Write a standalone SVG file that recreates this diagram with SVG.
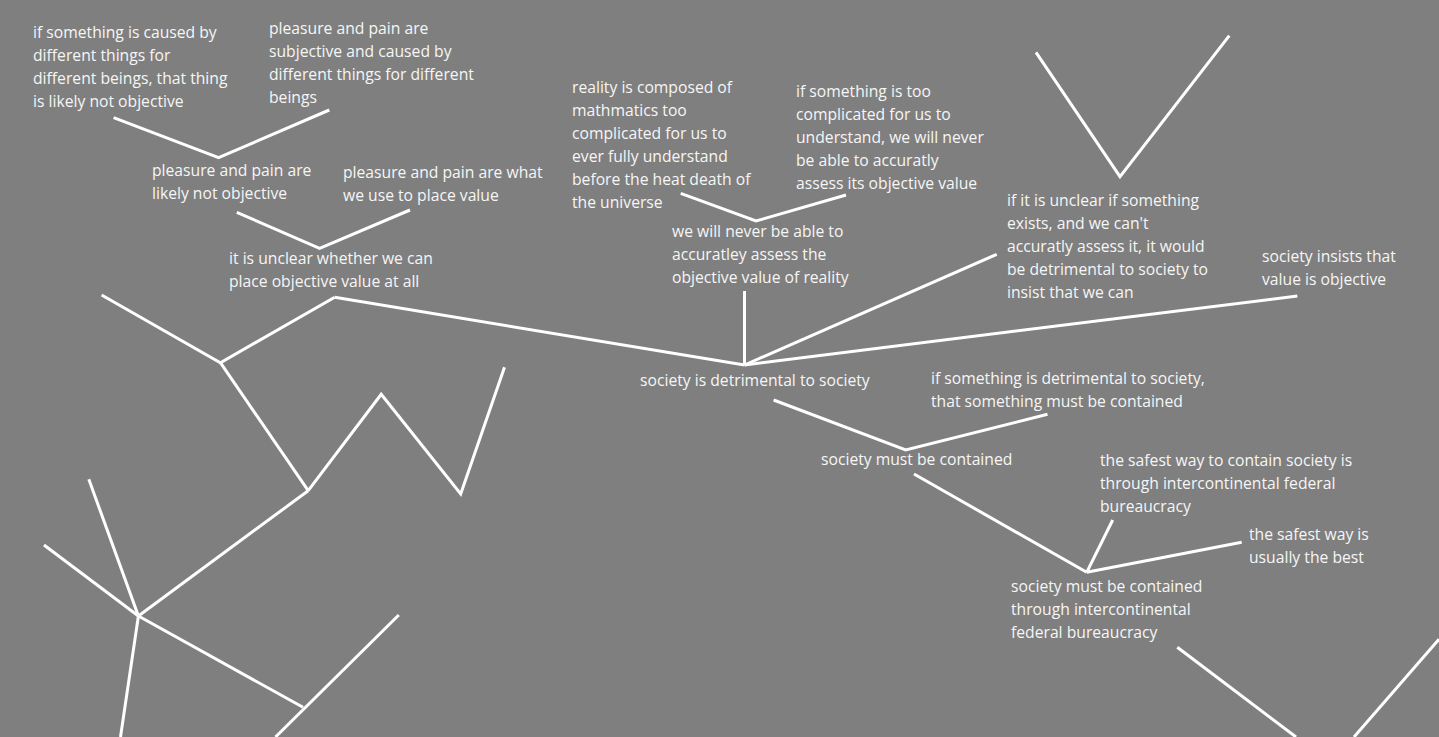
<svg xmlns="http://www.w3.org/2000/svg" width="1439" height="737" viewBox="0 0 1439 737">
<style>
.bg{fill:#7f7f7f}
.t{font-family:"Open Sans","Noto Sans","DejaVu Sans",sans-serif;font-size:15.7px;fill:#f6f6f6}
.c{stroke:#ffffff;stroke-width:3;stroke-linecap:butt;fill:none}
</style>
<rect class="bg" x="0" y="0" width="1439" height="737"/>
<g id="connectors">
<polyline class="c" points="113.6,117.7 218.6,157.7 329.3,110"/>
<polyline class="c" points="236.8,212.3 319.6,248.3 410,210"/>
<polyline class="c" points="680.7,193.3 756,221 846,195"/>
<line class="c" x1="744.5" y1="291" x2="744.5" y2="365"/>
<line class="c" x1="334.7" y1="297.3" x2="744.5" y2="365"/>
<line class="c" x1="996.7" y1="254.3" x2="744.5" y2="365"/>
<line class="c" x1="1297.3" y1="296" x2="744.5" y2="365"/>
<polyline class="c" points="773.6,400 905.7,450 1047.5,414.3"/>
<line class="c" x1="914" y1="474" x2="1086.7" y2="572.3"/>
<line class="c" x1="1112.7" y1="520" x2="1086.7" y2="572.3"/>
<line class="c" x1="1241.7" y1="542.3" x2="1086.7" y2="572.3"/>
<polyline class="c" points="1177.3,647.3 1296,737"/>
<polyline class="c" points="1354,737 1439,639.3"/>
<polyline class="c" points="1036,52.3 1120,176.7 1229.3,35.7"/>
<polyline class="c" points="101.6,295 220.4,362.7 334.7,297.3"/>
<line class="c" x1="220.4" y1="362.7" x2="308.2" y2="490.7"/>
<polyline class="c" points="308.2,490.7 381.2,394.3 460.7,494 504.5,367.3"/>
<line class="c" x1="308.2" y1="490.7" x2="138.4" y2="616"/>
<line class="c" x1="138.4" y1="616" x2="88.8" y2="479.3"/>
<line class="c" x1="138.4" y1="616" x2="44" y2="545"/>
<line class="c" x1="138.4" y1="616" x2="120.5" y2="737"/>
<line class="c" x1="138.4" y1="616" x2="303" y2="707.3"/>
<line class="c" x1="398.8" y1="615" x2="275.5" y2="737"/>
</g>
<g id="n1"><text class="t" x="33" y="38"><tspan x="33" dy="0">if something is caused by</tspan><tspan x="33" dy="23">different things for</tspan><tspan x="33" dy="23">different beings, that thing</tspan><tspan x="33" dy="23">is likely not objective</tspan></text></g>
<g id="n2"><text class="t" x="269" y="34"><tspan x="269" dy="0">pleasure and pain are</tspan><tspan x="269" dy="23">subjective and caused by</tspan><tspan x="269" dy="23">different things for different</tspan><tspan x="269" dy="23">beings</tspan></text></g>
<g id="n3"><text class="t" x="152" y="176"><tspan x="152" dy="0">pleasure and pain are</tspan><tspan x="152" dy="23">likely not objective</tspan></text></g>
<g id="n4"><text class="t" x="343" y="178"><tspan x="343" dy="0">pleasure and pain are what</tspan><tspan x="343" dy="23">we use to place value</tspan></text></g>
<g id="n5"><text class="t" x="229" y="264"><tspan x="229" dy="0">it is unclear whether we can</tspan><tspan x="229" dy="23">place objective value at all</tspan></text></g>
<g id="n6"><text class="t" x="572" y="93"><tspan x="572" dy="0">reality is composed of</tspan><tspan x="572" dy="23">mathmatics too</tspan><tspan x="572" dy="23">complicated for us to</tspan><tspan x="572" dy="23">ever fully understand</tspan><tspan x="572" dy="23">before the heat death of</tspan><tspan x="572" dy="23">the universe</tspan></text></g>
<g id="n7"><text class="t" x="796" y="97"><tspan x="796" dy="0">if something is too</tspan><tspan x="796" dy="23">complicated for us to</tspan><tspan x="796" dy="23">understand, we will never</tspan><tspan x="796" dy="23">be able to accuratly</tspan><tspan x="796" dy="23">assess its objective value</tspan></text></g>
<g id="n8"><text class="t" x="672" y="237"><tspan x="672" dy="0">we will never be able to</tspan><tspan x="672" dy="23">accuratley assess the</tspan><tspan x="672" dy="23">objective value of reality</tspan></text></g>
<g id="n9"><text class="t" x="1007" y="206"><tspan x="1007" dy="0">if it is unclear if something</tspan><tspan x="1007" dy="23">exists, and we can't</tspan><tspan x="1007" dy="23">accuratly assess it, it would</tspan><tspan x="1007" dy="23">be detrimental to society to</tspan><tspan x="1007" dy="23">insist that we can</tspan></text></g>
<g id="n10"><text class="t" x="1262" y="262"><tspan x="1262" dy="0">society insists that</tspan><tspan x="1262" dy="23">value is objective</tspan></text></g>
<g id="n11"><text class="t" x="640" y="386">society is detrimental to society</text></g>
<g id="n12"><text class="t" x="931" y="384"><tspan x="931" dy="0">if something is detrimental to society,</tspan><tspan x="931" dy="23">that something must be contained</tspan></text></g>
<g id="n13"><text class="t" x="821" y="465">society must be contained</text></g>
<g id="n14"><text class="t" x="1100" y="466"><tspan x="1100" dy="0">the safest way to contain society is</tspan><tspan x="1100" dy="23">through intercontinental federal</tspan><tspan x="1100" dy="23">bureaucracy</tspan></text></g>
<g id="n15"><text class="t" x="1249" y="540"><tspan x="1249" dy="0">the safest way is</tspan><tspan x="1249" dy="23">usually the best</tspan></text></g>
<g id="n16"><text class="t" x="1011" y="592"><tspan x="1011" dy="0">society must be contained</tspan><tspan x="1011" dy="23">through intercontinental</tspan><tspan x="1011" dy="23">federal bureaucracy</tspan></text></g>
</svg>
